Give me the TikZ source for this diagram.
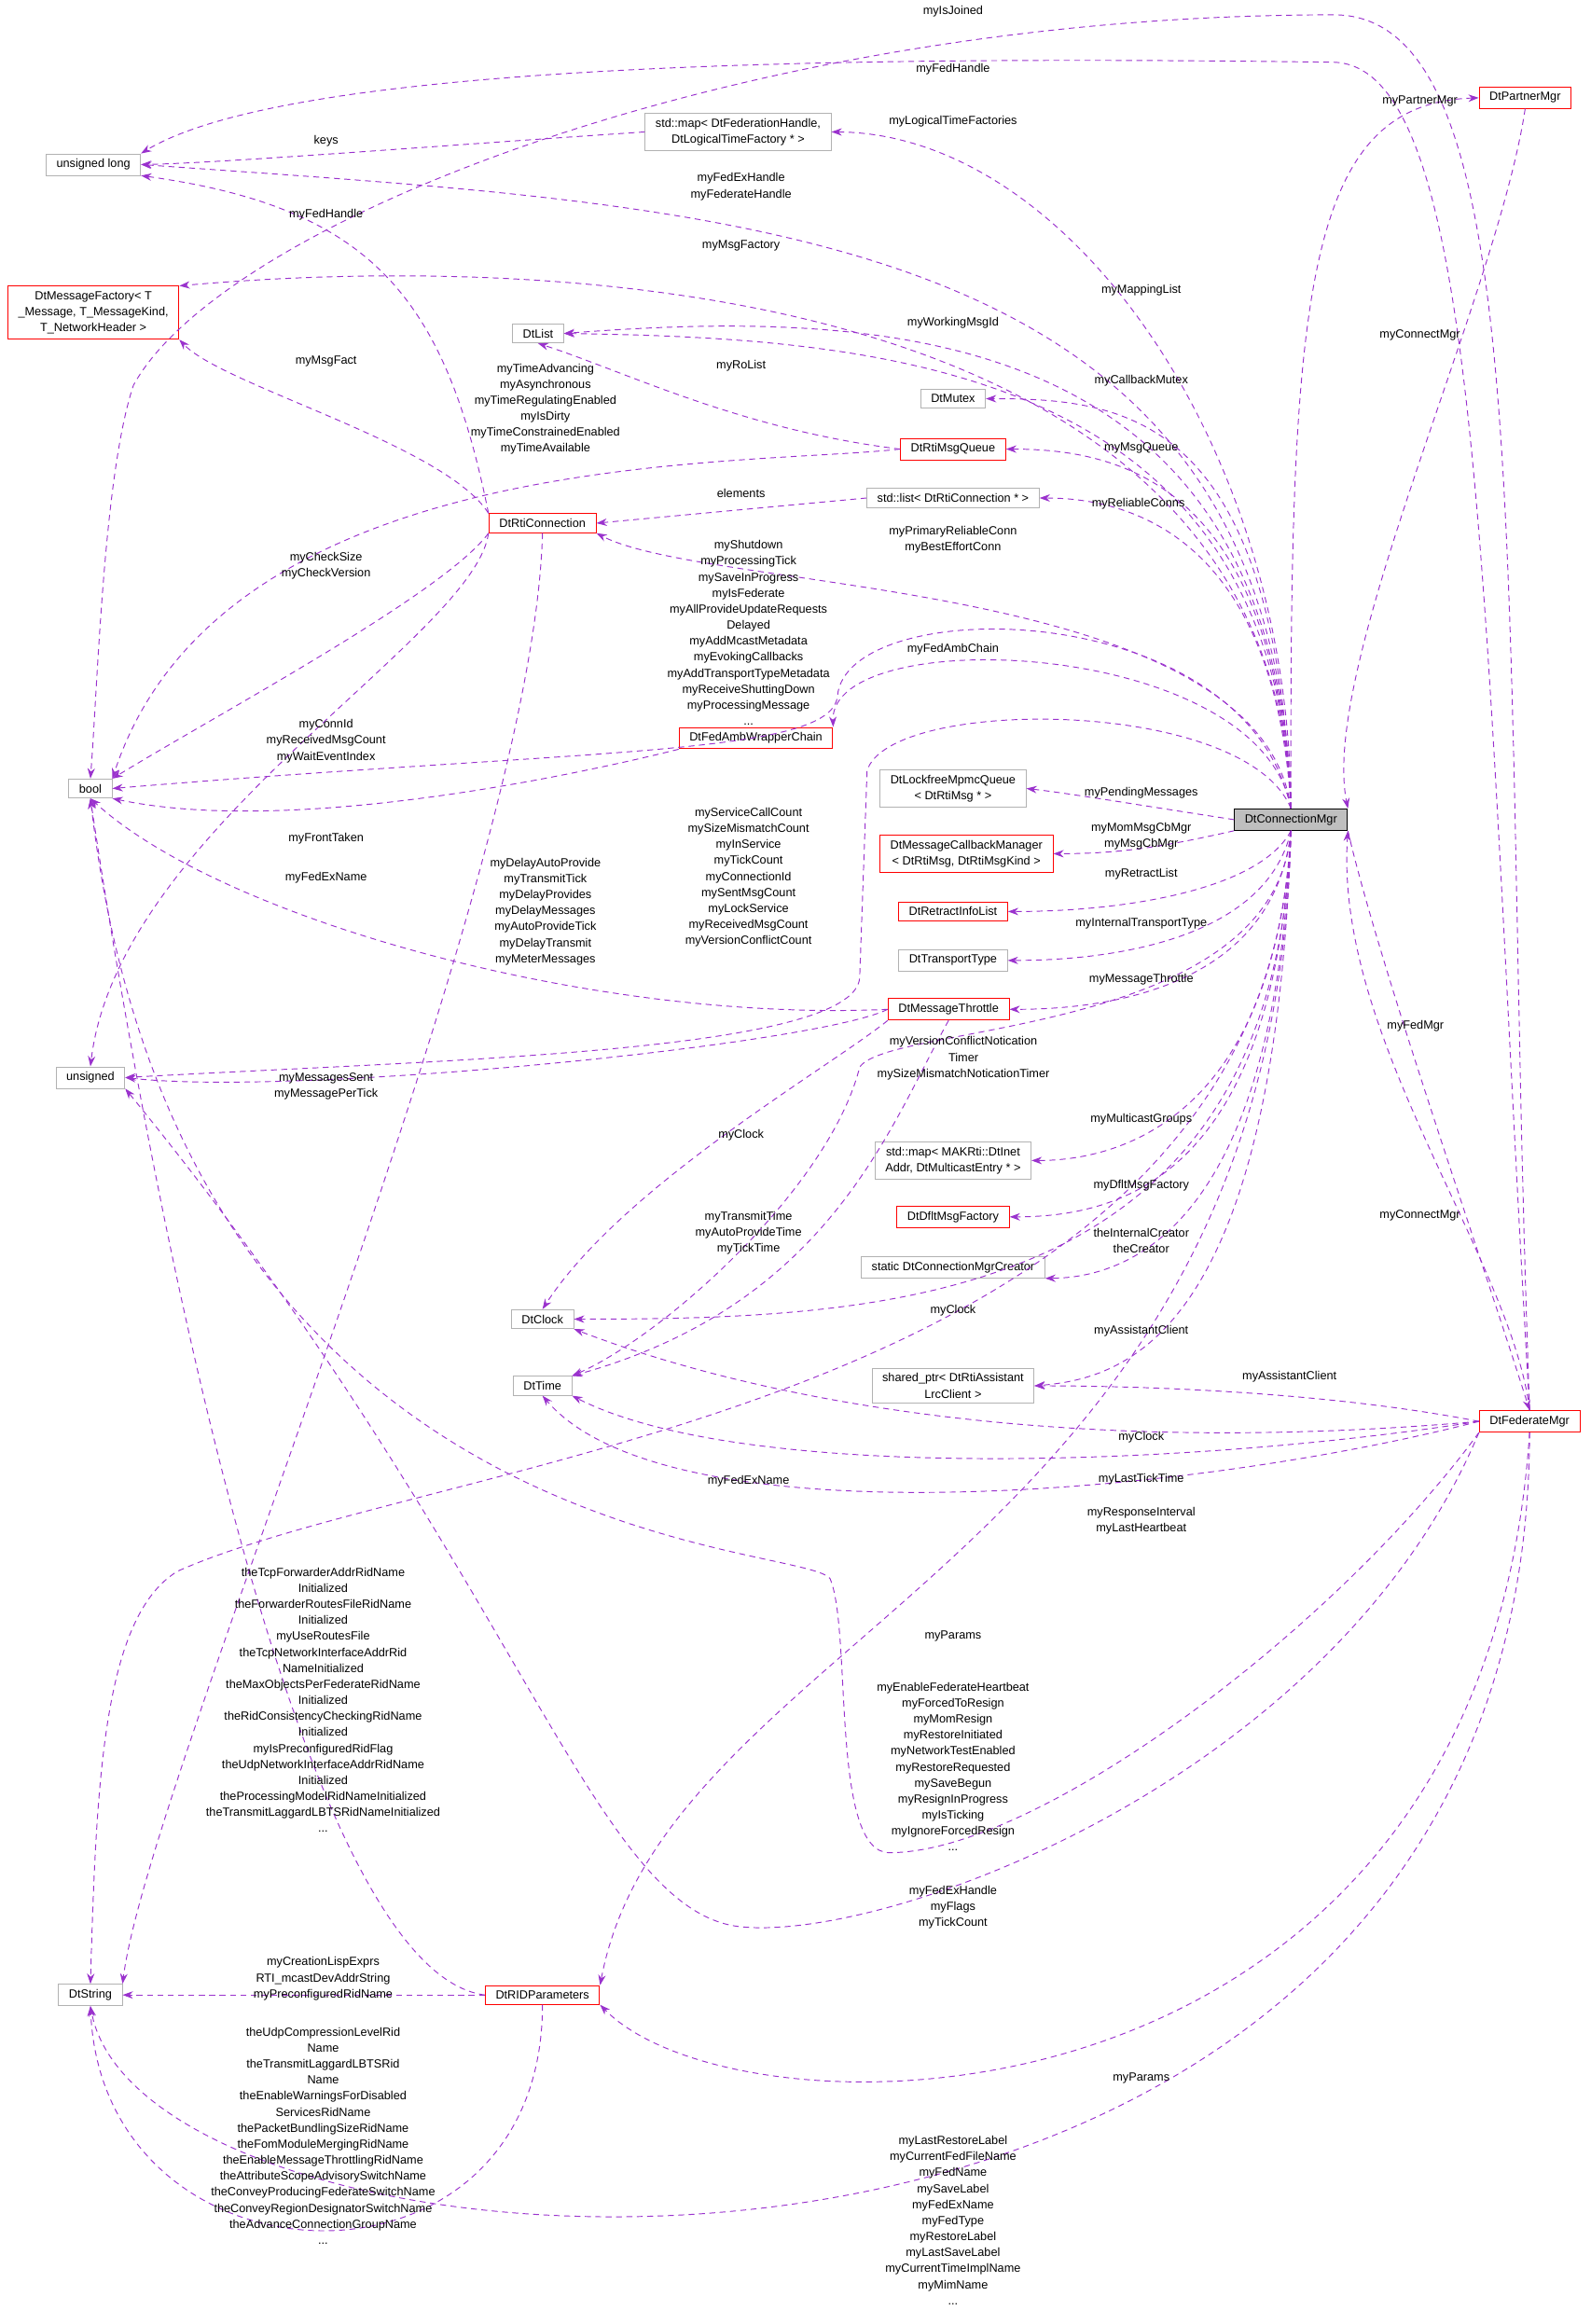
\documentclass[tikz,border=0pt]{standalone}
\usepackage{fontspec}
\setmainfont{Liberation Sans}
\usetikzlibrary{arrows.meta}
\definecolor{edg}{HTML}{9A32CD}
\begin{document}
\begin{tikzpicture}[x=1pt,y=-1pt,
  every node/.style={font=\fontsize{8}{10.8}\selectfont,align=center},
  box/.style={draw=black!30,fill=white,inner xsep=7pt,inner ysep=3.5pt,line width=0.5pt},
  rbox/.style={draw=red,fill=white,inner xsep=7pt,inner ysep=3.5pt,line width=0.6pt},
  mbox/.style={draw=black,fill=black!25,inner xsep=7pt,inner ysep=3.5pt,line width=0.6pt},
  lb/.style={inner sep=0pt},
  e/.style={draw=edg,dashed,dash pattern=on 4pt off 3pt,line width=0.6pt,-{Stealth[length=7pt,width=5pt]}}]
\useasboundingbox (0,0) rectangle (1073,1568);
% nodes
\node[box] (ul) at (63,111) {unsigned long};
\node[box] (smap) at (498,89) {std::map< DtFederationHandle,\\DtLogicalTimeFactory * >};
\node[rbox] (pm) at (1029,66) {DtPartnerMgr};
\node[rbox] (mf) at (63,211) {DtMessageFactory< T\\\_Message, T\_MessageKind,\\T\_NetworkHeader >};
\node[box] (list) at (363,225) {DtList};
\node[box] (mutex) at (643,269) {DtMutex};
\node[rbox] (rmq) at (643,303) {DtRtiMsgQueue};
\node[rbox] (rc) at (366,353) {DtRtiConnection};
\node[box] (slist) at (643,336) {std::list< DtRtiConnection * >};
\node[box] (bool) at (61,532) {bool};
\node[box] (lfq) at (643,532) {DtLockfreeMpmcQueue\\< DtRtiMsg * >};
\node[mbox] (cm) at (871,553) {DtConnectionMgr};
\node[rbox] (fawc) at (510,498) {DtFedAmbWrapperChain};
\node[rbox] (mcm) at (652,576) {DtMessageCallbackManager\\< DtRtiMsg, DtRtiMsgKind >};
\node[rbox] (ril) at (643,615) {DtRetractInfoList};
\node[box] (tt) at (643,648) {DtTransportType};
\node[rbox] (mt) at (640,681) {DtMessageThrottle};
\node[box] (uns) at (61,727) {unsigned};
\node[box] (smap2) at (643,783) {std::map< MAKRti::DtInet\\Addr, DtMulticastEntry * >};
\node[rbox] (dmf) at (643,821) {DtDfltMsgFactory};
\node[box] (cmc) at (643,855) {static DtConnectionMgrCreator};
\node[box] (clock) at (366,890) {DtClock};
\node[box] (sp) at (643,935) {shared\_ptr< DtRtiAssistant\\LrcClient >};
\node[box] (time) at (366,935) {DtTime};
\node[rbox] (fm) at (1032,959) {DtFederateMgr};
\node[box] (str) at (61,1346) {DtString};
\node[rbox] (rid) at (366,1346) {DtRIDParameters};
% edges
\draw[e] (fm.north) .. controls (1000,400) and (1000,45) .. (900,42) .. controls (600,38) and (200,40) .. (ul.north east);
\draw[e] (fm.north) .. controls (1012,400) and (1040,10) .. (900,10) .. controls (500,10) and (150,150) .. (90,260) .. controls (70,320) and (66,460) .. (bool.north);
\draw[e] (smap.west) .. controls (300,98) and (150,110) .. (ul.east);
\draw[e] (cm.north) .. controls (870,300) and (720,90) .. (smap.east);
\draw[e] (cm.north) .. controls (870,200) and (880,70) .. (pm.west);
\draw[e] (pm.south) .. controls (1010,200) and (890,450) .. (cm.north east);
\draw[e] (cm.north) .. controls (860,150) and (500,140) .. (ul.east);
\draw[e] (rc.north west) .. controls (300,200) and (250,140) .. (ul.south east);
\draw[e] (cm.north) .. controls (860,200) and (400,168) .. (mf.north east);
\draw[e] (rc.north west) .. controls (300,300) and (150,260) .. (mf.south east);
\draw[e] (cm.north) .. controls (860,220) and (600,208) .. (list.east);
\draw[e] (cm.north) .. controls (860,250) and (600,228) .. (list.east);
\draw[e] (rmq.west) .. controls (500,290) and (420,250) .. (list.south);
\draw[e] (cm.north) .. controls (860,280) and (760,269) .. (mutex.east);
\draw[e] (rmq.west) .. controls (500,315) and (150,300) .. (bool.north east);
\draw[e] (cm.north) .. controls (860,330) and (760,303) .. (rmq.east);
\draw[e] (cm.north) .. controls (860,360) and (760,336) .. (slist.east);
\draw[e] (slist.west) -- (rc.east);
\draw[e] (cm.north) .. controls (850,390) and (480,400) .. (rc.south east);
\draw[e] (rc.south west) .. controls (300,400) and (150,480) .. (bool.north east);
\draw[e] (cm.north) .. controls (840,400) and (570,400) .. (565,470) .. controls (560,510) and (400,505) .. (bool.east);
\draw[e] (cm.north) .. controls (850,430) and (560,420) .. (fawc.north east);
\draw[e] (rc.south west) .. controls (320,430) and (80,560) .. (uns.north);
\draw[e] (cm.north) .. controls (840,470) and (600,470) .. (585,520) -- (580,660) .. controls (575,710) and (300,715) .. (uns.east);
\draw[e] (fawc.south west) .. controls (400,520) and (200,565) .. (bool.south east);
\draw[e] (cm.west) .. controls (780,545) and (720,535) .. (lfq.east);
\draw[e] (cm.south west) .. controls (790,570) and (760,576) .. (mcm.east);
\draw[e] (cm.south) .. controls (850,600) and (760,615) .. (ril.east);
\draw[e] (cm.south) .. controls (855,630) and (760,648) .. (tt.east);
\draw[e] (mt.west) .. controls (400,690) and (150,620) .. (bool.south);
\draw[e] (cm.south) .. controls (860,660) and (760,681) .. (mt.east);
\draw[e] (mt.west) .. controls (550,705) and (200,740) .. (uns.east);
\draw[e] (cm.south) .. controls (860,700) and (600,690) .. (580,720) .. controls (560,800) and (450,900) .. (time.north east);
\draw[e] (mt.south west) .. controls (560,720) and (420,800) .. (clock.north);
\draw[e] (mt.south) .. controls (600,760) and (560,880) .. (time.north east);
\draw[e] (cm.south) .. controls (860,750) and (760,783) .. (smap2.east);
\draw[e] (cm.south) .. controls (860,790) and (760,821) .. (dmf.east);
\draw[e] (cm.south) .. controls (860,830) and (760,862) .. (cmc.south east);
\draw[e] (cm.south) .. controls (860,880) and (600,890) .. (clock.east);
\draw[e] (cm.south) .. controls (860,900) and (760,930) .. (sp.east);
\draw[e] (fm.west) .. controls (900,940) and (780,935) .. (sp.east);
\draw[e] (fm.west) .. controls (700,985) and (500,940) .. (clock.south east);
\draw[e] (fm.west) .. controls (800,990) and (500,1000) .. (time.south east);
\draw[e] (fm.west) .. controls (800,1010) and (450,1040) .. (time.south);
\draw[e] (cm.south) .. controls (855,950) and (300,980) .. (120,1060) .. controls (70,1090) and (65,1200) .. (str.north);
\draw[e] (rc.south) .. controls (360,600) and (100,1200) .. (str.north east);
\draw[e] (cm.south) .. controls (860,1050) and (450,1100) .. (rid.north east);
\draw[e] (fm.south) .. controls (1000,1450) and (500,1450) .. (rid.south east);
\draw[e] (fm.south west) .. controls (900,1100) and (700,1250) .. (600,1250) .. controls (560,1250) and (575,1100) .. (560,1065) .. controls (540,1040) and (120,1050) .. (bool.south);
\draw[e] (fm.south west) .. controls (900,1200) and (600,1310) .. (500,1300) .. controls (400,1290) and (350,1060) .. (uns.south east);
\draw[e] (rid.west) .. controls (200,1330) and (100,800) .. (bool.south);
\draw[e] (rid.west) -- (str.east);
\draw[e] (rid.south) .. controls (366,1560) and (70,1550) .. (str.south);
\draw[e] (fm.south) .. controls (1030,1620) and (100,1560) .. (str.south);
\draw[e] (cm.south east) .. controls (930,650) and (1000,850) .. (fm.north);
\draw[e] (fm.north) .. controls (1020,850) and (900,700) .. (cm.south east);
% labels
\node[lb] (l1) at (643,47) {myFedHandle};
\node[lb] (l2) at (643,8) {myIsJoined};
\node[lb] (l3) at (220,95) {keys};
\node[lb] (l4) at (643,82) {myLogicalTimeFactories};
\node[lb] (l5) at (958,68) {myPartnerMgr};
\node[lb] (l6) at (500,126) {myFedExHandle\\myFederateHandle};
\node[lb] (l7) at (220,145) {myFedHandle};
\node[lb] (l8) at (500,166) {myMsgFactory};
\node[lb] (l9) at (220,244) {myMsgFact};
\node[lb] (l10) at (770,196) {myMappingList};
\node[lb] (l11) at (643,218) {myWorkingMsgId};
\node[lb] (l12) at (500,247) {myRoList};
\node[lb] (l13) at (770,257) {myCallbackMutex};
\node[lb] (l14) at (368,276) {myTimeAdvancing\\myAsynchronous\\myTimeRegulatingEnabled\\myIsDirty\\myTimeConstrainedEnabled\\myTimeAvailable};
\node[lb] (l15) at (770,302) {myMsgQueue};
\node[lb] (l16) at (768,340) {myReliableConns};
\node[lb] (l17) at (500,333) {elements};
\node[lb] (l18) at (643,364) {myPrimaryReliableConn\\myBestEffortConn};
\node[lb] (l19) at (220,382) {myCheckSize\\myCheckVersion};
\node[lb] (l20) at (505,427) {myShutdown\\myProcessingTick\\mySaveInProgress\\myIsFederate\\myAllProvideUpdateRequests\\Delayed\\myAddMcastMetadata\\myEvokingCallbacks\\myAddTransportTypeMetadata\\myReceiveShuttingDown\\myProcessingMessage\\...};
\node[lb] (l21) at (643,438) {myFedAmbChain};
\node[lb] (l22) at (220,500) {myConnId\\myReceivedMsgCount\\myWaitEventIndex};
\node[lb] (l23) at (505,592) {myServiceCallCount\\mySizeMismatchCount\\myInService\\myTickCount\\myConnectionId\\mySentMsgCount\\myLockService\\myReceivedMsgCount\\myVersionConflictCount};
\node[lb] (l24) at (220,566) {myFrontTaken};
\node[lb] (l25) at (770,535) {myPendingMessages};
\node[lb] (l26) at (770,564) {myMomMsgCbMgr\\myMsgCbMgr};
\node[lb] (l27) at (770,590) {myRetractList};
\node[lb] (l28) at (770,623) {myInternalTransportType};
\node[lb] (l29) at (368,615) {myDelayAutoProvide\\myTransmitTick\\myDelayProvides\\myDelayMessages\\myAutoProvideTick\\myDelayTransmit\\myMeterMessages};
\node[lb] (l30) at (770,661) {myMessageThrottle};
\node[lb] (l31) at (220,733) {myMessagesSent\\myMessagePerTick};
\node[lb] (l32) at (650,714) {myVersionConflictNotication\\Timer\\mySizeMismatchNoticationTimer};
\node[lb] (l32b) at (500,766) {myClock};
\node[lb] (l32c) at (505,832) {myTransmitTime\\myAutoProvideTime\\myTickTime};
\node[lb] (l33) at (770,755) {myMulticastGroups};
\node[lb] (l34) at (770,800) {myDfltMsgFactory};
\node[lb] (l35) at (770,837) {theInternalCreator\\theCreator};
\node[lb] (l36) at (643,884) {myClock};
\node[lb] (l37) at (770,898) {myAssistantClient};
\node[lb] (l38) at (870,929) {myAssistantClient};
\node[lb] (l39) at (770,970) {myClock};
\node[lb] (l40) at (770,998) {myLastTickTime};
\node[lb] (l41) at (770,1026) {myResponseInterval\\myLastHeartbeat};
\node[lb] (l42) at (505,999) {myFedExName};
\node[lb] (l43) at (220,592) {myFedExName};
\node[lb] (l44) at (643,1104) {myParams};
\node[lb] (l45) at (770,1402) {myParams};
\node[lb] (l46) at (643,1192) {myEnableFederateHeartbeat\\myForcedToResign\\myMomResign\\myRestoreInitiated\\myNetworkTestEnabled\\myRestoreRequested\\mySaveBegun\\myResignInProgress\\myIsTicking\\myIgnoreForcedResign\\...};
\node[lb] (l47) at (643,1287) {myFedExHandle\\myFlags\\myTickCount};
\node[lb] (l48) at (218,1147) {theTcpForwarderAddrRidName\\Initialized\\theForwarderRoutesFileRidName\\Initialized\\myUseRoutesFile\\theTcpNetworkInterfaceAddrRid\\NameInitialized\\theMaxObjectsPerFederateRidName\\Initialized\\theRidConsistencyCheckingRidName\\Initialized\\myIsPreconfiguredRidFlag\\theUdpNetworkInterfaceAddrRidName\\Initialized\\theProcessingModelRidNameInitialized\\theTransmitLaggardLBTSRidNameInitialized\\...};
\node[lb] (l49) at (218,1335) {myCreationLispExprs\\RTI\_mcastDevAddrString\\myPreconfiguredRidName};
\node[lb] (l50) at (218,1441) {theUdpCompressionLevelRid\\Name\\theTransmitLaggardLBTSRid\\Name\\theEnableWarningsForDisabled\\ServicesRidName\\thePacketBundlingSizeRidName\\theFomModuleMergingRidName\\theEnableMessageThrottlingRidName\\theAttributeScopeAdvisorySwitchName\\theConveyProducingFederateSwitchName\\theConveyRegionDesignatorSwitchName\\theAdvanceConnectionGroupName\\...};
\node[lb] (l51) at (643,1498) {myLastRestoreLabel\\myCurrentFedFileName\\myFedName\\mySaveLabel\\myFedExName\\myFedType\\myRestoreLabel\\myLastSaveLabel\\myCurrentTimeImplName\\myMimName\\...};
\node[lb] (l52) at (958,226) {myConnectMgr};
\node[lb] (l53) at (955,692) {myFedMgr};
\node[lb] (l54) at (958,820) {myConnectMgr};
\end{tikzpicture}
\end{document}
